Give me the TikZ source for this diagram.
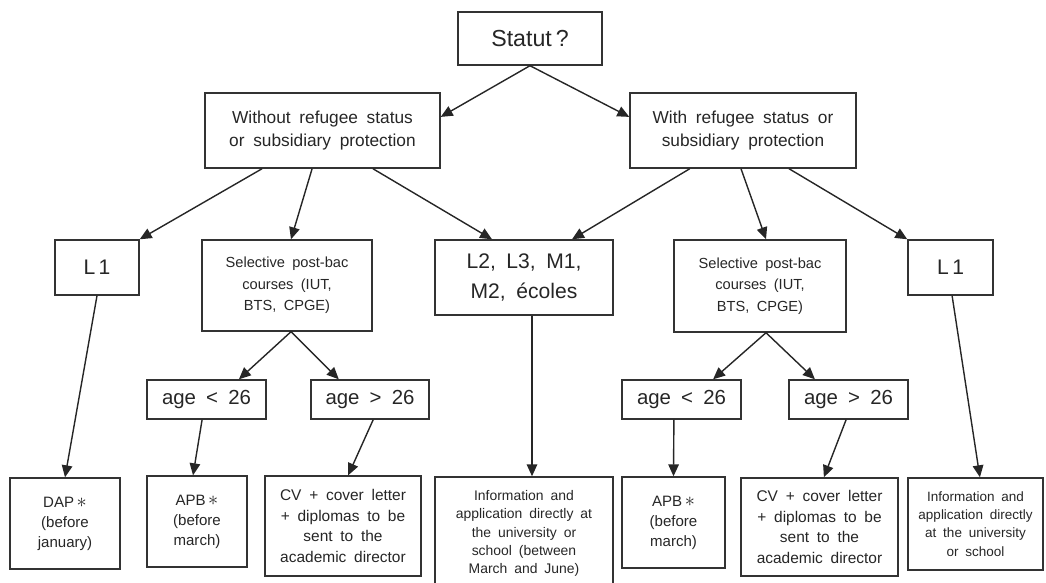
\documentclass[tikz,border=0pt]{standalone}
\usepackage{fontspec}
\setmainfont{Liberation Sans}[WordSpace=1.8]
\usetikzlibrary{arrows.meta,positioning}

\newcommand{\fs}[2]{\fontsize{#1}{#2}\selectfont}
\newcommand{\bigast}{\,{\fontsize{15}{15}\selectfont$\ast$}}

\begin{document}
\begin{tikzpicture}[x=0.025cm, y=-0.025cm,
    box/.style={draw=black!80, line width=1pt, inner sep=0pt, align=center, text=black!85},
    arr/.style={draw=black!85, line width=1pt, -{Triangle[length=8.5pt,width=7.5pt]}}]
    \useasboundingbox (0,0) rectangle (1046,583);
    % top
    \node[box, minimum width=3.6cm, minimum height=1.325cm, font=\fs{16.5}{20}] (statut) at (530,38.5) {Statut\,?};
    \node[box, minimum width=5.875cm, minimum height=1.875cm, font=\fs{12.3}{17}] (without) at (322.5,130.5)
      {Without refugee status\\or subsidiary protection};
    \node[box, minimum width=5.65cm, minimum height=1.875cm, font=\fs{12.3}{17}] (with) at (743,130.5)
      {With refugee status or\\subsidiary protection};
    % second row
    \node[box, minimum width=2.1cm, minimum height=1.375cm, font=\fs{15}{20}] (l1a) at (97,267.5) {L\,1};
    \node[box, minimum width=4.25cm, minimum height=2.275cm, font=\fs{10.4}{15.4}] (sela) at (287,285.5)
      {Selective post-bac\\courses (IUT,\\BTS, CPGE)};
    \node[box, minimum width=4.45cm, minimum height=1.875cm, font=\fs{15}{22}] (ltwo) at (524,277.5)
      {L2, L3, M1,\\M2, écoles};
    \node[box, minimum width=4.3cm, minimum height=2.3cm, font=\fs{10.4}{15.4}] (selb) at (760,286)
      {Selective post-bac\\courses (IUT,\\BTS, CPGE)};
    \node[box, minimum width=2.125cm, minimum height=1.375cm, font=\fs{15}{20}] (l1b) at (950.5,267.5) {L\,1};
    % age
    \node[box, minimum width=2.975cm, minimum height=0.975cm, font=\fs{14.5}{18}] (agelta) at (206.5,399.5) {age < 26};
    \node[box, minimum width=2.95cm, minimum height=0.975cm, font=\fs{14.5}{18}] (agegta) at (370,399.5) {age > 26};
    \node[box, minimum width=2.975cm, minimum height=0.975cm, font=\fs{14.5}{18}] (ageltb) at (681.5,399.5) {age < 26};
    \node[box, minimum width=2.975cm, minimum height=0.975cm, font=\fs{14.5}{18}] (agegtb) at (848.5,399.5) {age > 26};
    % bottom
    \node[box, minimum width=2.75cm, minimum height=2.275cm, font=\fs{10.7}{14.2}] (dap) at (65,523.5)
      {DAP\bigast\\(before\\january)};
    \node[box, minimum width=2.5cm, minimum height=2.275cm, font=\fs{10.7}{14.2}] (apba) at (197,521.5)
      {APB\bigast\\(before\\march)};
    \node[box, minimum width=3.9cm, minimum height=2.5cm, font=\fs{11}{14.5}] (cva) at (343,526)
      {CV + cover letter\\+ diplomas to be\\sent to the\\academic director};
    \node[box, minimum width=4.45cm, minimum height=2.825cm, font=\fs{9.9}{13}] (info) at (524,533.5)
      {Information and\\application directly at\\the university or\\school (between\\March and June)};
    \node[box, minimum width=2.575cm, minimum height=2.275cm, font=\fs{10.7}{14.2}] (apbb) at (673.5,522.5)
      {APB\bigast\\(before\\march)};
    \node[box, minimum width=3.925cm, minimum height=2.45cm, font=\fs{11}{14.5}] (cvb) at (819.5,527)
      {CV + cover letter\\+ diplomas to be\\sent to the\\academic director};
    \node[box, minimum width=3.375cm, minimum height=2.3cm, font=\fs{9.6}{13}] (infob) at (975.5,524)
      {Information and\\application directly\\at the university\\or school};
    % arrows
    \draw[arr] (statut.south) -- ([yshift=0.34cm]without.east);
    \draw[arr] (statut.south) -- ([yshift=0.34cm]with.west);
    \draw[arr] ([xshift=-1.51cm]without.south) -- (l1a.north east);
    \draw[arr] ([xshift=-0.26cm]without.south) -- ([xshift=0.1cm]sela.north);
    \draw[arr] ([xshift=1.26cm]without.south) -- ([xshift=-0.8cm]ltwo.north);
    \draw[arr] ([xshift=-1.33cm]with.south) -- ([xshift=1.2cm]ltwo.north);
    \draw[arr] ([xshift=-0.05cm]with.south) -- ([xshift=0.15cm]selb.north);
    \draw[arr] ([xshift=1.15cm]with.south) -- (l1b.north west);
    \draw[arr] (l1a.south) -- (dap.north);
    \draw[arr] ([xshift=0.1cm]sela.south) -- ([xshift=0.81cm]agelta.north);
    \draw[arr] ([xshift=0.1cm]sela.south) -- ([xshift=-0.78cm]agegta.north);
    \draw[arr] ([xshift=-0.11cm]agelta.south) -- ([xshift=-0.1cm]apba.north);
    \draw[arr] ([xshift=0.08cm]agegta.south) -- ([xshift=0.13cm]cva.north);
    \draw[arr] ([xshift=0.2cm]ltwo.south) -- ([xshift=0.2cm]info.north);
    \draw[arr] ([xshift=0.15cm]selb.south) -- ([xshift=0.79cm]ageltb.north);
    \draw[arr] ([xshift=0.15cm]selb.south) -- ([xshift=-0.84cm]agegtb.north);
    \draw[arr] ([xshift=-0.19cm]ageltb.south) -- (apbb.north);
    \draw[arr] ([xshift=-0.06cm]agegtb.south) -- ([xshift=0.11cm]cvb.north);
    \draw[arr] ([xshift=0.04cm]l1b.south) -- ([xshift=0.11cm]infob.north);
\end{tikzpicture}
\end{document}
